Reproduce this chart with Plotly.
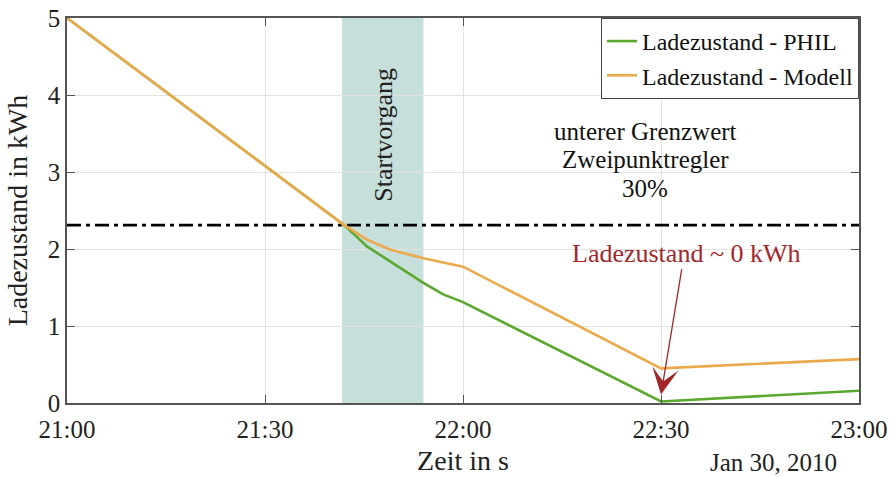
import plotly.graph_objects as go

# Data
day = "2010-01-30 "
phil_times = ["21:00", "21:42", "21:45:30", "21:48:30", "21:54", "21:57", "22:00", "22:30", "23:00"]
phil_soc = [5.0, 2.31, 2.03, 1.86, 1.56, 1.41, 1.31, 0.02, 0.16]
model_times = ["21:00", "21:42", "21:45:30", "21:49", "21:54", "22:00", "22:30", "23:00"]
model_soc = [5.0, 2.31, 2.12, 1.99, 1.88, 1.77, 0.45, 0.57]
threshold = 2.31
start_window = ["21:41:40", "21:54"]
x_range = ["21:00", "23:00"]
tick_times = ["21:00", "21:30", "22:00", "22:30", "23:00"]
y_ticks = [0, 1, 2, 3, 4, 5]
limit_lines = ["unterer Grenzwert", "Zweipunktregler", "30%"]
limit_line_y = [3.52, 3.16, 2.79]

def t(s):
    return day + (s if s.count(":") == 2 else s + ":00")

FONT = "Liberation Serif"
GREEN = "#5ba82f"
ORANGE = "#eca94c"
RED = "#a3262b"

fig = go.Figure()

fig.add_shape(type="rect", xref="x", yref="paper",
              x0=t(start_window[0]), x1=t(start_window[1]), y0=0, y1=1,
              fillcolor="#c6dfdb", line_width=0, layer="below")

fig.add_trace(go.Scatter(x=[t(x_range[0]), t(x_range[1])], y=[threshold, threshold],
                         mode="lines", showlegend=False, hoverinfo="skip",
                         line=dict(color="black", width=2.8, dash="14px,5px,4px,5px")))

fig.add_trace(go.Scatter(x=[t(s) for s in phil_times], y=phil_soc, mode="lines",
                         name="Ladezustand - PHIL", line=dict(color=GREEN, width=2.6)))
fig.add_trace(go.Scatter(x=[t(s) for s in model_times], y=model_soc, mode="lines",
                         name="Ladezustand - Modell", line=dict(color=ORANGE, width=2.6)))

fig.add_annotation(x=t("21:47:50"), y=3.48, text="Startvorgang", textangle=-90,
                   showarrow=False, font=dict(family=FONT, size=26, color="#222"))
for txt, yy in zip(limit_lines, limit_line_y):
    fig.add_annotation(x=t("22:27:35"), y=yy, text=txt, showarrow=False,
                       font=dict(family=FONT, size=25, color="#111"))
fig.add_annotation(x=t("22:33:50"), y=1.94, text="Ladezustand ~ 0 kWh",
                   showarrow=False, font=dict(family=FONT, size=26, color=RED))
fig.add_annotation(x=t("22:30"), y=0.11, text="", showarrow=True,
                   ax=21, ay=-127, arrowhead=3, arrowsize=3.4, arrowwidth=1.3,
                   arrowcolor=RED, standoff=0)
fig.add_annotation(xref="paper", yref="paper", x=0.975, y=-0.155, text="Jan 30, 2010",
                   showarrow=False, xanchor="right", yanchor="middle",
                   font=dict(family=FONT, size=25, color="#222"))

fig.update_layout(
    width=896, height=477,
    margin=dict(l=67, r=37, t=18, b=74, autoexpand=False),
    plot_bgcolor="white", paper_bgcolor="white",
    font=dict(family=FONT, size=25, color="#222"),
    legend=dict(x=1, y=1, xanchor="right", yanchor="top",
                bordercolor="#444", borderwidth=1, bgcolor="white",
                font=dict(family=FONT, size=24, color="#111"),
                itemwidth=30, tracegroupgap=0),
    xaxis=dict(type="date", range=[t(x_range[0]), t(x_range[1])],
               tickvals=[t(s) for s in tick_times], ticktext=tick_times,
               tickfont=dict(family=FONT, size=25), ticklabelstandoff=3,
               showgrid=True, gridcolor="#e2e2e2", gridwidth=1,
               showline=True, linecolor="#555", linewidth=1.5, mirror="ticks",
               ticks="inside", ticklen=8, tickcolor="#555", automargin=False,
               title=dict(text="Zeit in s", font=dict(family=FONT, size=28), standoff=9),
               zeroline=False),
    yaxis=dict(range=[0, 5], tickvals=y_ticks,
               tickfont=dict(family=FONT, size=25),
               showgrid=True, gridcolor="#e2e2e2", gridwidth=1,
               showline=True, linecolor="#555", linewidth=1.5, mirror="ticks",
               ticks="inside", ticklen=8, tickcolor="#555", automargin=False,
               title=dict(text="Ladezustand in kWh", font=dict(family=FONT, size=28), standoff=12),
               zeroline=False),
)

fig.write_html("out.html", config={"displayModeBar": False},
               post_script="document.body.style.margin='0';document.body.style.overflow='hidden';")
